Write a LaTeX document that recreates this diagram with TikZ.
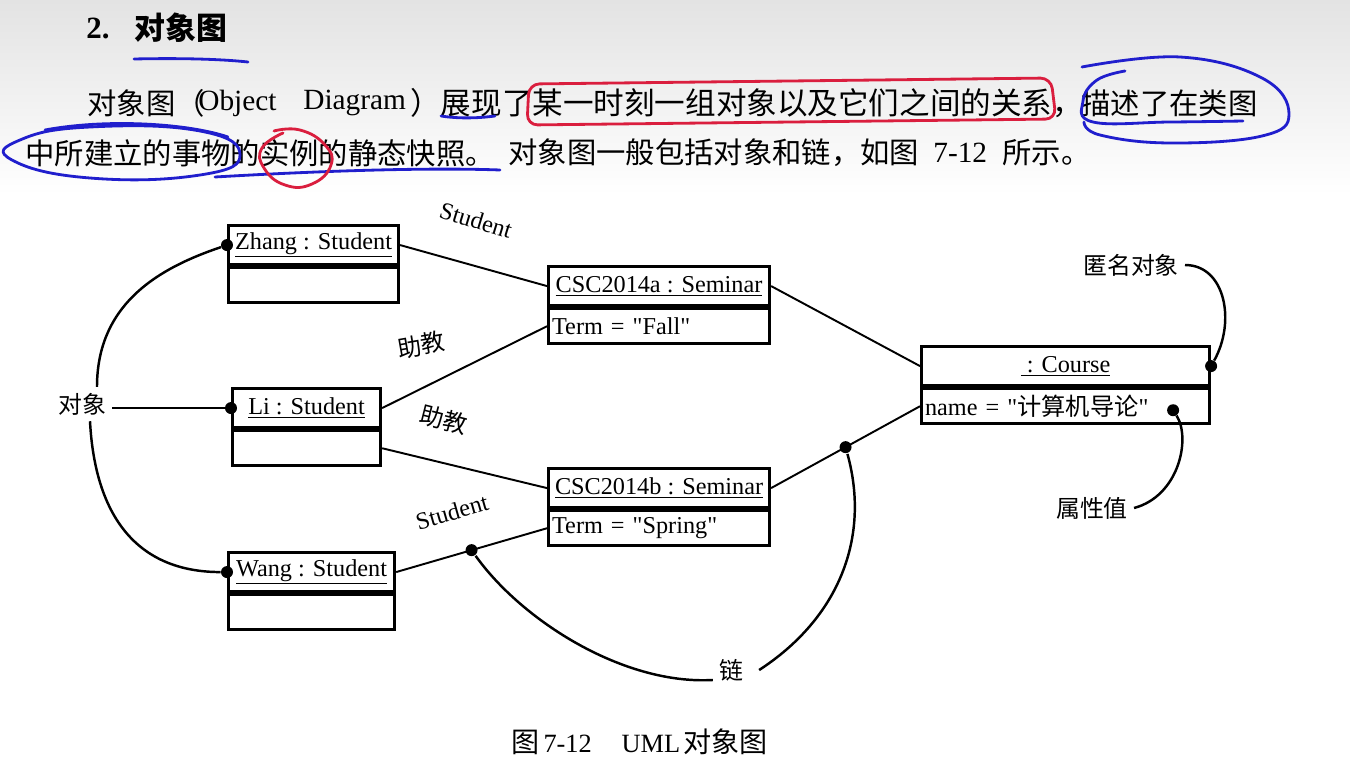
\documentclass[tikz,border=0pt]{standalone}
\usepackage{fontspec}
\setmainfont{Liberation Serif}[Ligatures=TeXOff]
\newfontfamily\cjk{Noto Sans CJK SC}
\usetikzlibrary{positioning}

\definecolor{penblue}{RGB}{32,30,205}
\definecolor{penred}{RGB}{218,30,62}

\newcommand\bodyfont{\fontsize{16.7}{20}\selectfont}
\newcommand\objfont{\fontsize{13.8}{16}\selectfont}
\newcommand\notefont{\cjk\fontsize{13.6}{16}\selectfont}

\tikzset{
  objname/.style={draw, line width=1.8pt, minimum width=#1, minimum height=0.78cm,
    inner sep=1pt, font=\objfont, anchor=north west},
  objattr/.style={draw, line width=1.8pt, text width=#1, minimum height=0.7cm,
    inner xsep=0pt, inner ysep=0pt, align=left, font=\objfont},
  bodytext/.style={font=\bodyfont, inner sep=0pt, anchor=west},
  linkline/.style={line width=1.1pt},
  noteline/.style={line width=1.4pt},
  linkdot/.style={circle, fill, inner sep=0pt, minimum size=0.24cm},
  inkpen/.style={line width=1.6pt, line cap=round, line join=round}
}

\begin{document}
\begin{tikzpicture}[x=0.02cm, y=-0.02cm]
    \useasboundingbox (0,0) rectangle (1350,774);
    \shade[top color=black!11, bottom color=white] (0,0) rectangle (1350,195);

    % heading and paragraph
    \node[font=\fontsize{17.6}{20}\selectfont\bfseries, inner sep=0pt, anchor=west]
        (titleNum) at (86,28) {2.};
    \node[font=\fontsize{17.6}{20}\selectfont\cjk\bfseries, inner sep=0pt, anchor=west]
        (titleText) at (134,28) {对象图};

    \node[bodytext] (lineA1) at (87,103) {\cjk 对象图（};
    \node[bodytext] (lineA2) at (198,103) {Object};
    \node[bodytext] (lineA3) at (303,103) {Diagram};
    \node[bodytext, font=\fontsize{17.4}{20}\selectfont] (lineA4) at (410,103)
        {\cjk ）展现了某一时刻一组对象以及它们之间的关系，};
    \node[bodytext] (lineA5) at (1081,103) {\cjk 描述了在类图};

    \node[bodytext] (lineB1) at (25,153) {\cjk 中所建立的事物的实例的静态快照。};
    \node[bodytext] (lineB2) at (508,153) {\cjk 对象图一般包括对象和链，如图};
    \node[bodytext] (lineB3) at (933,153) {7-12};
    \node[bodytext] (lineB4) at (1002,153) {\cjk 所示。};

    % pen marks
    \draw[inkpen, penblue] (134,59) .. controls (180,58) and (220,59) .. (248,62);
    \draw[inkpen, penblue] (441,116) .. controls (460,119) and (480,118) .. (495,116);
    \draw[inkpen, penred, rounded corners=6pt]
        (529,84) -- (1051,78) -- (1056,119) -- (527,125) -- cycle;
    \draw[inkpen, penblue] plot[smooth, tension=0.7] coordinates
        {(1082,67) (1180,57) (1262,78) (1289,114) (1262,136) (1170,143) (1100,135) (1084,122)};
    \draw[inkpen, penblue] plot[smooth, tension=0.7] coordinates
        {(1125,71) (1097,80) (1083,101) (1093,122) (1170,122) (1243,121)};
    \draw[inkpen, penblue] plot[smooth cycle, tension=0.8] coordinates
        {(20,140) (90,127) (200,131) (240,155) (200,175) (90,178) (12,160)};
    \draw[inkpen, penblue] (45,130) .. controls (110,118) and (190,124) .. (228,137);
    \draw[inkpen, penblue] (215,177) .. controls (300,172) and (420,167) .. (500,170);
    \draw[inkpen, penred] plot[smooth, tension=0.8] coordinates
        {(274,131) (300,130) (325,145) (331,165) (312,184) (285,185) (264,168) (262,148) (283,133)};

    % objects
    \node[objname=3.4cm] (zhang) at (227,224) {\underline{Zhang : Student}};
    \node[objattr=3.4cm, below=0pt of zhang] (zhangAttr) {};
    \node[objname=2.96cm] (li) at (231,387) {\underline{Li : Student}};
    \node[objattr=2.96cm, below=0pt of li] (liAttr) {};
    \node[objname=3.32cm] (wang) at (227,551) {\underline{Wang : Student}};
    \node[objattr=3.32cm, below=0pt of wang] (wangAttr) {};

    \node[objname=4.42cm] (semA) at (547,265) {\underline{CSC2014a : Seminar}};
    \node[objattr=4.42cm, below=0pt of semA] (semAAttr) {\hspace*{2pt}Term = "Fall"};
    \node[objname=4.42cm] (semB) at (547,467) {\underline{CSC2014b : Seminar}};
    \node[objattr=4.42cm, below=0pt of semB] (semBAttr) {\hspace*{2pt}Term = "Spring"};

    \node[objname=5.76cm] (course) at (920,345) {\underline{\ : Course}};
    \node[objattr=5.76cm, below=0pt of course] (courseAttr)
        {\hspace*{2pt}name = "{\cjk 计算机导论}"};

    % links
    \draw[linkline] (zhang.east) -- (semA.west);
    \draw[linkline] (li.east) -- (semAAttr.west);
    \draw[linkline] (liAttr.east) -- (semB.west);
    \draw[linkline] (wang.east) -- node[linkdot, pos=0.5] (wangLinkDot) {} (semBAttr.west);
    \draw[linkline] (semA.east) -- (course.west);
    \draw[linkline] (semB.east) -- node[linkdot, pos=0.5] (courseLinkDot) {} (courseAttr.west);

    \node[font=\objfont, rotate=-17] (roleTop) at (476,220) {Student};
    \node[font=\notefont, rotate=10] (taTop) at (421,345) {助教};
    \node[font=\notefont, rotate=-14] (taLow) at (444,420) {助教};
    \node[font=\objfont, rotate=16] (roleLow) at (452,512) {Student};

    % notes
    \node[linkdot] (zhangDot) at (zhang.west) {};
    \node[linkdot] (liDot) at (li.west) {};
    \node[linkdot] (wangDot) at (wang.west) {};
    \node[linkdot] (courseDot) at (course.east) {};
    \node[linkdot] (valueDot) at ([xshift=-0.76cm, yshift=-0.08cm]courseAttr.east) {};

    \node[font=\notefont] (objNote) at (82,404) {对象};
    \node[font=\notefont] (anonNote) at (1131,265) {匿名对象};
    \node[font=\notefont] (valueNote) at (1092,508) {属性值};
    \node[font=\notefont] (linkNote) at (731,670) {链};

    \draw[noteline] (liDot -| objNote.east) -- (liDot);
    \draw[noteline] ([xshift=0.3cm]objNote.north) .. controls +(0,-85) and +(-65,22) .. (zhangDot);
    \draw[noteline] ([xshift=0.16cm]objNote.south) .. controls +(5,95) and +(-90,0) .. (wangDot);
    \draw[noteline] (anonNote.east) .. controls +(40,0) and +(25,-45) .. (courseDot);
    \draw[noteline] (valueNote.east) .. controls +(45,-12) and +(18,28) .. (valueDot);
    \draw[noteline] (wangLinkDot) .. controls +(50,70) and +(-90,5) .. ([yshift=-0.2cm]linkNote.west);
    \draw[noteline] ([xshift=0.2cm]linkNote.east) .. controls +(80,-52) and +(25,90) .. (courseLinkDot);

    % caption
    \node[font=\fontsize{15}{18}\selectfont] (caption) at (640,742)
        {{\cjk\fontsize{16}{18}\selectfont 图}\hspace{2pt}7-12\hspace{17pt}UML\hspace{2pt}{\cjk\fontsize{16}{18}\selectfont 对象图}};
\end{tikzpicture}
\end{document}
